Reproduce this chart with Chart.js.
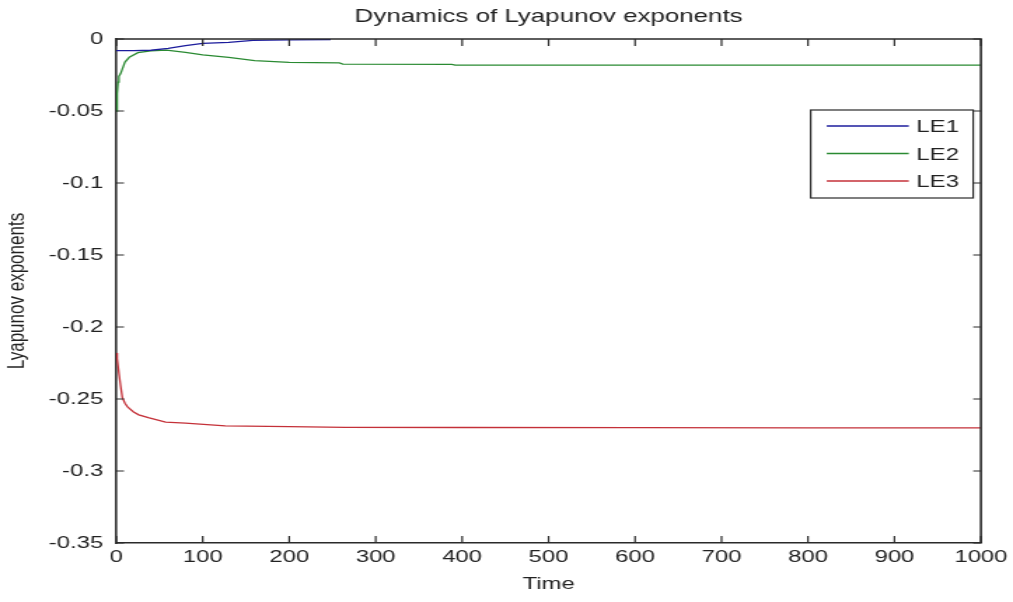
<!DOCTYPE html>
<html>
<head>
<meta charset="utf-8">
<title>Dynamics of Lyapunov exponents</title>
<script src="https://cdn.jsdelivr.net/npm/chart.js@4/dist/chart.umd.min.js"></script>
<style>
  html, body { margin: 0; padding: 0; background: #fff; }
</style>
</head>
<body>
<!-- the original figure is stretched sideways, so the canvas is drawn narrow and widened by css -->
<canvas id="chartCanvas" width="723" height="602" style="width:1013px;height:602px;display:block"></canvas>
<script>
// time samples and values
const le1Time = [0, 20, 40, 60, 80, 100, 130, 158, 200, 248];
const le1Values = [-0.0081, -0.0081, -0.0078, -0.0065, -0.0046, -0.0030, -0.0023, -0.0009, -0.0006, -0.0005];

const le2Time = [0, 1, 2, 3, 5, 10, 15, 25, 40, 58, 80, 100, 130, 160, 200, 258, 262, 388, 392, 500, 700, 1000];
const le2Values = [-0.050, -0.038, -0.030, -0.026, -0.024, -0.016, -0.0127, -0.0095, -0.0083, -0.0077, -0.0093, -0.0110, -0.0127, -0.0150, -0.0162, -0.0166, -0.0174, -0.0176, -0.0181, -0.0181, -0.0181, -0.0181];

const le3Time = [0, 1, 3, 5, 7, 10, 13, 20, 26, 37, 57, 80, 126, 200, 265, 400, 600, 800, 1000];
const le3Values = [-0.218, -0.222, -0.232, -0.241, -0.249, -0.253, -0.2555, -0.259, -0.261, -0.263, -0.266, -0.2667, -0.2687, -0.2692, -0.2697, -0.2698, -0.2699, -0.2700, -0.2700];

const seriesLabels = ["LE1", "LE2", "LE3"];
const seriesColors = ["#1c1c9c", "#2a8a32", "#c43038"];

const xTickValues = [0, 100, 200, 300, 400, 500, 600, 700, 800, 900, 1000];
const xTickLabels = ["0", "100", "200", "300", "400", "500", "600", "700", "800", "900", "1000"];
const yTickValues = [0, -0.05, -0.1, -0.15, -0.2, -0.25, -0.3, -0.35];
const yTickLabels = ["0", "-0.05", "-0.1", "-0.15", "-0.2", "-0.25", "-0.3", "-0.35"];

function toPoints(times, values) {
  return times.map((t, i) => ({ x: t, y: values[i] }));
}

Chart.defaults.font.family = "'Liberation Sans', Arial, sans-serif";
Chart.defaults.color = "#222";

const axisColor = "#2a2a2a";

// matlab style box: top/right edges and inward tick marks on every side
const boxPlugin = {
  id: "box",
  afterDraw(chart) {
    const ctx = chart.ctx;
    const { left, right, top, bottom } = chart.chartArea;
    const xs = chart.scales.x;
    const ys = chart.scales.y;
    ctx.save();
    ctx.strokeStyle = axisColor;
    ctx.lineWidth = 1.6;
    ctx.beginPath();
    ctx.moveTo(left, top);
    ctx.lineTo(right, top);
    ctx.lineTo(right, bottom);
    ctx.stroke();
    ctx.lineWidth = 1.2;
    ctx.beginPath();
    xs.ticks.forEach(t => {
      const px = xs.getPixelForValue(t.value);
      ctx.moveTo(px, bottom);
      ctx.lineTo(px, bottom - 7);
      ctx.moveTo(px, top);
      ctx.lineTo(px, top + 7);
    });
    ys.ticks.forEach(t => {
      const py = ys.getPixelForValue(t.value);
      ctx.moveTo(left, py);
      ctx.lineTo(left + 5.5, py);
      ctx.moveTo(right, py);
      ctx.lineTo(right - 5.5, py);
    });
    ctx.stroke();
    ctx.restore();
  }
};

// boxed legend in the upper right of the plot
const legendBoxPlugin = {
  id: "legendBox",
  afterDraw(chart) {
    const ctx = chart.ctx;
    const area = chart.chartArea;
    const boxRight = area.right - 5.5;
    const boxLeft = boxRight - 116;
    const boxTop = area.top + 71;
    const boxBottom = boxTop + 88;
    ctx.save();
    ctx.fillStyle = "#fff";
    ctx.fillRect(boxLeft, boxTop, boxRight - boxLeft, boxBottom - boxTop);
    ctx.strokeStyle = axisColor;
    ctx.lineWidth = 1.2;
    ctx.strokeRect(boxLeft, boxTop, boxRight - boxLeft, boxBottom - boxTop);
    ctx.font = "17px 'Liberation Sans', Arial, sans-serif";
    ctx.textBaseline = "middle";
    ctx.textAlign = "left";
    chart.data.datasets.forEach((ds, i) => {
      const y = boxTop + 16 + i * 27.5;
      ctx.strokeStyle = ds.borderColor;
      ctx.lineWidth = 1.3;
      ctx.beginPath();
      ctx.moveTo(boxLeft + 11.5, y);
      ctx.lineTo(boxLeft + 70, y);
      ctx.stroke();
      ctx.fillStyle = "#222";
      ctx.fillText(ds.label, boxLeft + 75.5, y + 1.5);
    });
    ctx.restore();
  }
};

const ctx = document.getElementById("chartCanvas").getContext("2d");

const chart = new Chart(ctx, {
  type: "line",
  data: {
    datasets: [
      { label: seriesLabels[0], data: toPoints(le1Time, le1Values), borderColor: seriesColors[0] },
      { label: seriesLabels[1], data: toPoints(le2Time, le2Values), borderColor: seriesColors[1] },
      { label: seriesLabels[2], data: toPoints(le3Time, le3Values), borderColor: seriesColors[2] }
    ].map(ds => Object.assign(ds, { borderWidth: 1.3, pointRadius: 0, tension: 0, fill: false }))
  },
  options: {
    responsive: false,
    devicePixelRatio: 1,
    animation: false,
    events: [],
    layout: { padding: { left: 0, right: 21, top: 0, bottom: 0 } },
    plugins: {
      legend: { display: false },
      tooltip: { enabled: false },
      title: {
        display: true,
        fullSize: false,
        text: "Dynamics of Lyapunov exponents",
        color: "#222",
        font: { size: 18.5, weight: "normal" },
        padding: { top: 6, bottom: 10.8 }
      }
    },
    scales: {
      x: {
        type: "linear",
        min: 0,
        max: 1000,
        afterBuildTicks: s => { s.ticks = xTickValues.map(v => ({ value: v })); },
        afterFit: s => { s.height = 59; },
        ticks: {
          font: { size: 17 },
          padding: 4,
          maxRotation: 0,
          color: "#222",
          callback: (value, index) => xTickLabels[index]
        },
        grid: { display: false, drawTicks: false },
        border: { display: true, color: axisColor, width: 1.6 },
        title: {
          display: true,
          text: "Time",
          color: "#222",
          font: { size: 17 },
          padding: { top: 0, bottom: 7.8 }
        }
      },
      y: {
        type: "linear",
        min: -0.35,
        max: 0,
        afterBuildTicks: s => { s.ticks = yTickValues.map(v => ({ value: v })); },
        afterFit: s => { s.width = 83; },
        ticks: {
          font: { size: 17 },
          padding: 9.4,
          color: "#222",
          callback: (value, index) => yTickLabels[index]
        },
        grid: { display: false, drawTicks: false },
        border: { display: true, color: axisColor, width: 1.6 },
        title: {
          display: true,
          text: "Lyapunov exponents",
          color: "#222",
          font: { size: 17 },
          padding: { top: 2, bottom: 0 }
        }
      }
    }
  },
  plugins: [boxPlugin, legendBoxPlugin]
});
</script>
</body>
</html>
